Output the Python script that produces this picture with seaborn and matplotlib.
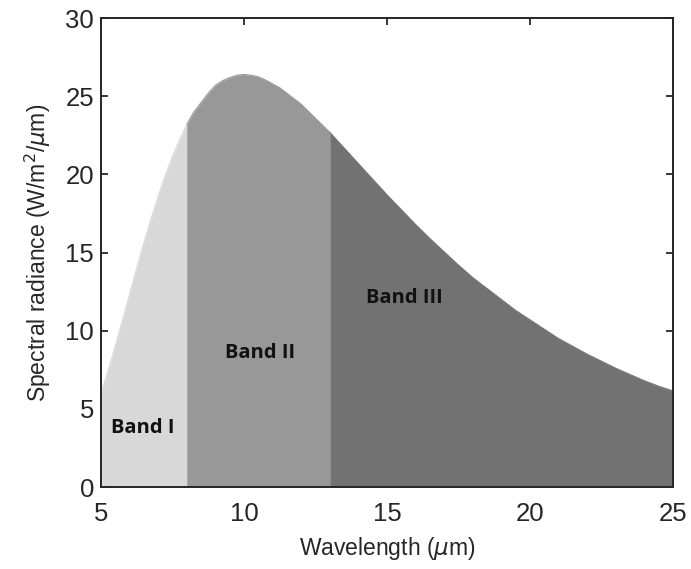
import numpy as np
import pandas as pd
import matplotlib
matplotlib.use("Agg")
import matplotlib.pyplot as plt
import seaborn as sns

# Wavelength (um) and spectral radiance (W/m^2/um)
wavelength = [5.0, 5.25, 5.5, 5.75, 6.0, 6.25, 6.5, 6.75, 7.0, 7.25, 7.5, 7.75, 8.0,
              8.25, 8.5, 8.75, 9.0, 9.25, 9.5, 9.75, 10.0, 10.25, 10.5, 10.75, 11.0,
              11.25, 11.5, 11.75, 12.0, 12.25, 12.5, 12.75, 13.0, 13.5, 14.0, 14.5,
              15.0, 15.5, 16.0, 16.5, 17.0, 17.5, 18.0, 18.5, 19.0, 19.5, 20.0, 20.5,
              21.0, 21.5, 22.0, 22.5, 23.0, 23.5, 24.0, 24.5, 25.0]
radiance = [6.0, 7.45, 9.0, 10.65, 12.3, 14.0, 15.6, 17.15, 18.6, 19.95, 21.15, 22.2, 23.2,
            24.0, 24.6, 25.2, 25.7, 26.0, 26.2, 26.35, 26.4, 26.35, 26.25, 26.05, 25.8,
            25.55, 25.2, 24.85, 24.5, 24.05, 23.6, 23.15, 22.7, 21.7, 20.7, 19.7,
            18.7, 17.75, 16.8, 15.9, 15.05, 14.2, 13.4, 12.7, 12.0, 11.3, 10.7, 10.1,
            9.5, 9.0, 8.5, 8.05, 7.6, 7.2, 6.8, 6.45, 6.15]

band_names = ["Band I", "Band II", "Band III"]
band_edges = [5, 8, 13, 25]
band_colors = ["#d8d8d8", "#989898", "#727272"]
label_x = [6.45, 10.55, 15.6]
label_y = [3.8, 8.6, 12.1]

wl = np.array(wavelength)
rad = np.array(radiance)

rows = []
for name, lo, hi in zip(band_names, band_edges[:-1], band_edges[1:]):
    m = (wl >= lo) & (wl <= hi)
    for x, y in zip(wl[m], rad[m]):
        rows.append({"wavelength": x, "radiance": y, "band": name})
df = pd.DataFrame(rows)

sns.set_theme(style="ticks")
plt.rcParams["font.family"] = ["Liberation Sans", "DejaVu Sans"]
plt.rcParams["mathtext.fontset"] = "dejavusans"

fig = plt.figure(figsize=(6.91, 5.69), dpi=100)
ax = fig.add_axes([0.146, 0.144, 0.828, 0.824])

for name, color in zip(band_names, band_colors):
    sub = df[df["band"] == name]
    ax.fill_between(sub["wavelength"], 0, sub["radiance"], color=color, linewidth=0)

sns.lineplot(data=df, x="wavelength", y="radiance", hue="band",
             palette=dict(zip(band_names, band_colors)), linewidth=0.8,
             legend=False, ax=ax, sort=False)

for name, x, y in zip(band_names, label_x, label_y):
    ax.text(x, y, name, ha="center", va="center", fontsize=14.5,
            fontweight="bold", family=["Open Sans", "DejaVu Sans"], color="#111111")

ax.set_xlim(5, 25)
ax.set_ylim(0, 30)
ax.set_xticks([5, 10, 15, 20, 25])
ax.set_yticks([0, 5, 10, 15, 20, 25, 30])
ax.tick_params(direction="in", length=5, width=1.3, top=True, right=True,
               labelsize=18.5, colors="#262626")
ax.tick_params(axis="x", pad=11)
ax.tick_params(axis="y", pad=5)
for s in ax.spines.values():
    s.set_linewidth(1.4)
    s.set_color("#262626")
    s.set_visible(True)
ax.set_xlabel(r"Wavelength ($\mu$m)", fontsize=16.5, color="#262626", labelpad=6)
ax.set_ylabel(r"Spectral radiance (W/m$^2$/$\mu$m)", fontsize=16.5, color="#262626", labelpad=9)

fig.savefig("out.png", dpi=100)
